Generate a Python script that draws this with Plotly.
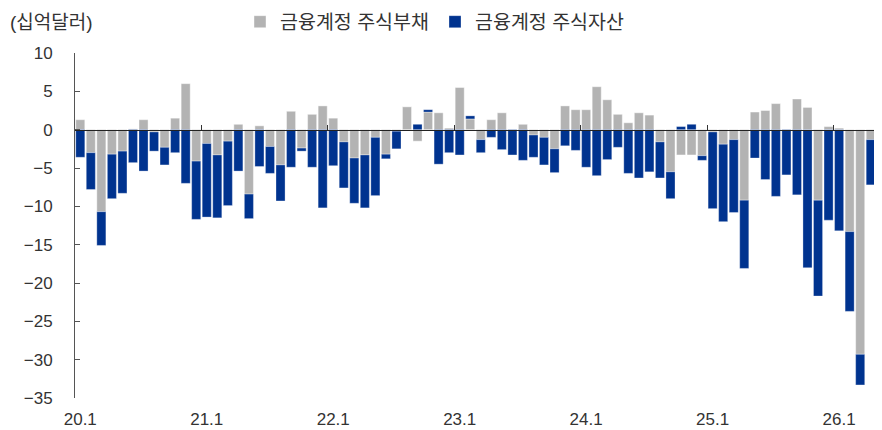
import plotly.graph_objects as go

# Categories: monthly labels 20.1 .. 26.4
months = [f"{y}.{m}" for y in range(20, 27) for m in range(1, 13)][:76]
year_ticks = ["20.1", "21.1", "22.1", "23.1", "24.1", "25.1", "26.1"]

# 금융계정 주식부채 (십억달러)
equity_liab = [
    1.3, -3.0, -10.7, -3.2, -2.8, 0.1, 1.3, -0.3, -2.3, 1.5, 6.0, -4.1,
    -1.8, -3.3, -1.5, 0.7, -8.4, 0.5, -2.2, -4.6, 2.4, -2.4, 2.0, 3.1,
    1.5, -1.6, -3.7, -3.3, -1.0, -3.2, -0.2, 3.0, -1.5, 2.3, 2.2, 0.2,
    5.5, 1.4, -1.3, 1.3, 2.2, 0.0, 0.7, -0.7, -1.0, -2.5, 3.1, 2.6,
    2.6, 5.6, 3.9, 2.0, 0.9, 2.2, 1.9, -1.6, -5.5, -3.3, -3.3, -3.4,
    -0.3, -1.9, -1.3, -9.2, 2.3, 2.5, 3.4, 0.0, 4.0, 2.9, -9.2, 0.4,
    0.2, -13.3, -29.3, -1.3,
]
# 금융계정 주식자산 (십억달러)
equity_asset = [
    -3.6, -4.8, -4.4, -5.8, -5.5, -4.3, -5.4, -2.5, -2.3, -3.0, -7.0, -7.6,
    -9.6, -8.2, -8.4, -5.4, -3.2, -4.8, -3.5, -4.7, -4.9, -0.4, -4.9, -10.2,
    -4.7, -6.0, -5.9, -6.9, -7.6, -0.6, -2.3, 0.0, 0.7, 0.3, -4.5, -3.0,
    -3.3, 0.4, -1.7, -1.0, -2.6, -3.3, -4.0, -2.9, -3.6, -3.1, -2.1, -2.7,
    -4.9, -6.0, -3.9, -2.3, -5.7, -6.3, -5.5, -4.7, -3.5, 0.4, 0.7, -0.6,
    -10.0, -10.1, -9.5, -8.9, -3.7, -6.5, -8.7, -5.9, -8.5, -18.0, -12.5, -11.8,
    -13.2, -10.4, -4.0, -5.9,
]

y_min, y_max, y_step = -35, 10, 5
y_ticks = list(range(y_min, y_max + 1, y_step))
y_ticktext = [str(v).replace("-", "\u2212") for v in y_ticks]

GRAY = "#B3B3B3"
NAVY = "#00338F"
TXT = "#333333"
FONT = "Liberation Sans, Arial, Noto Sans CJK KR, sans-serif"

# page body adds an 8px offset; figure laid out in its own coordinates
OFF = 8
W, H = 882 - OFF, 430 - OFF
ML, MR, MT, MB = 75 - OFF, 6, 53 - OFF, 32

fig = go.Figure()
fig.add_trace(go.Bar(
    x=months, y=equity_liab, name="금융계정 주식부채",
    marker=dict(color=GRAY, line=dict(color="rgba(255,255,255,0.7)", width=0.6)),
))
fig.add_trace(go.Bar(
    x=months, y=equity_asset, name="금융계정 주식자산",
    marker=dict(color=NAVY, line=dict(color="rgba(255,255,255,0.5)", width=0.6)),
))
# invisible helper trace so the zero-line axis (x2) is rendered
fig.add_trace(go.Scatter(
    x=list(range(len(months))), y=[None] * len(months), xaxis="x2",
    mode="lines", showlegend=False, hoverinfo="skip",
))

zero_pos = (0 - y_min) / (y_max - y_min)
boundary_ticks = [months.index(t) - 0.5 for t in year_ticks]

plot_w = W - ML - MR
plot_h = H - MT - MB

fig.update_layout(
    width=W, height=H, autosize=False,
    margin=dict(l=ML, r=MR, t=MT, b=MB, autoexpand=False),
    paper_bgcolor="white", plot_bgcolor="white",
    barmode="relative", bargap=0.14,
    font=dict(family=FONT, size=17, color=TXT),
    showlegend=True,
    legend=dict(
        orientation="h", xref="paper", yref="paper",
        x=(240 - OFF - ML) / plot_w, xanchor="left",
        y=(H - MB - (22 - OFF)) / plot_h, yanchor="middle",
        font=dict(size=19.5, color=TXT), bgcolor="rgba(0,0,0,0)",
        entrywidth=150, itemwidth=30,
    ),
    xaxis=dict(
        type="category", categoryorder="array", categoryarray=months,
        range=[-0.5, len(months) - 0.5], automargin=False,
        tickmode="array", tickvals=year_ticks, ticktext=year_ticks,
        ticks="", showline=False, showgrid=False, zeroline=False,
        tickfont=dict(size=17, color=TXT), ticklabelstandoff=9,
    ),
    xaxis2=dict(
        overlaying="x", anchor="free", position=zero_pos,
        range=[-0.5, len(months) - 0.5], automargin=False,
        tickmode="array", tickvals=boundary_ticks,
        ticks="inside", ticklen=5, tickcolor="#333", tickwidth=1,
        showline=True, linecolor="#222", linewidth=1.3,
        showticklabels=False, showgrid=False, zeroline=False,
    ),
    yaxis=dict(
        range=[y_min, y_max], tickmode="array", automargin=False,
        tickvals=y_ticks, ticktext=y_ticktext,
        ticks="inside", ticklen=5, tickcolor="#555", tickwidth=1,
        showline=True, linecolor="#555", linewidth=1,
        showgrid=False, zeroline=False,
        tickfont=dict(size=17, color=TXT), ticklabelstandoff=18,
    ),
    annotations=[dict(
        text="(십억달러)", xref="paper", yref="paper",
        x=(8 - OFF - ML) / plot_w, y=(H - MB - (22 - OFF)) / plot_h,
        xanchor="left", yanchor="middle",
        showarrow=False, font=dict(size=19, color=TXT),
    )],
)

fig.write_html("out.html")
